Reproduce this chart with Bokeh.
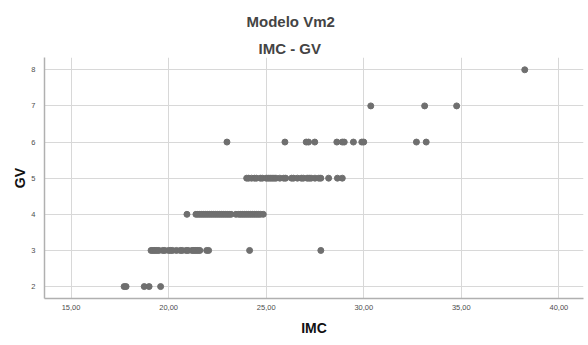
from bokeh.plotting import figure
from bokeh.models import Title, FixedTicker, Range1d
from bokeh.embed import file_html
from bokeh.resources import INLINE

# IMC values observed at each GV level
imc_gv2 = [17.72, 17.82, 18.75, 19.0, 19.59]
imc_gv3 = [19.1, 19.2, 19.3, 19.4, 19.5, 19.7, 19.8, 20.0, 20.1, 20.2, 20.4,
           20.6, 20.7, 20.9, 21.0, 21.2, 21.3, 21.4, 21.5, 21.6, 21.95, 22.05,
           24.15, 27.8]
imc_gv4 = [20.94, 21.4, 21.5, 21.6, 21.7, 21.8, 21.9, 22.0, 22.1, 22.2, 22.3,
           22.4, 22.5, 22.6, 22.7, 22.8, 22.9, 23.0, 23.1, 23.2, 23.45, 23.6,
           23.7, 23.8, 23.9, 24.0, 24.1, 24.2, 24.3, 24.4, 24.5, 24.6, 24.7,
           24.85]
imc_gv5 = [24.0, 24.1, 24.25, 24.4, 24.5, 24.7, 24.8, 25.0, 25.1, 25.2, 25.3,
           25.4, 25.5, 25.7, 25.9, 26.0, 26.3, 26.4, 26.6, 26.8, 26.9, 27.1,
           27.2, 27.3, 27.5, 27.7, 27.8, 28.2, 28.65, 28.9]
imc_gv6 = [22.99, 25.96, 27.05, 27.17, 27.49, 28.62, 28.9, 29.0, 29.47, 29.9,
           30.0, 32.7, 33.2]
imc_gv7 = [30.36, 33.12, 34.76]
imc_gv8 = [38.25]

gv_levels = [2, 3, 4, 5, 6, 7, 8]
imc_groups = [imc_gv2, imc_gv3, imc_gv4, imc_gv5, imc_gv6, imc_gv7, imc_gv8]

x_ticks = [15, 20, 25, 30, 35, 40]
x_tick_labels = ["15,00", "20,00", "25,00", "30,00", "35,00", "40,00"]
y_ticks = [2, 3, 4, 5, 6, 7, 8]

imc = [v for grp in imc_groups for v in grp]
gv = [lvl for lvl, grp in zip(gv_levels, imc_groups) for _ in grp]

p = figure(width=588, height=345, output_backend="svg", toolbar_location=None,
           x_range=Range1d(13.64, 41.26), y_range=Range1d(1.67, 8.34),
           min_border_left=44, min_border_right=5, min_border_bottom=47,
           min_border_top=57)

p.outline_line_color = None
p.background_fill_color = "white"
p.border_fill_color = "white"

# main title on top, subtitle just above the frame
p.title.text = "Modelo Vm2"
p.title.text_font = "Liberation Sans"
p.title.text_font_size = "15px"
p.title.text_font_style = "bold"
p.title.align = "left"
p.title.offset = 202
p.title.standoff = 14
p.add_layout(Title(text="IMC - GV", text_font="Liberation Sans",
                   text_font_size="15px", text_font_style="bold",
                   align="left", offset=214, standoff=2), "above")

p.scatter(imc, gv, size=6, fill_color="#6f6f6f", line_color="#6f6f6f")

for ax in (p.xaxis[0], p.yaxis[0]):
    ax.axis_line_color = "#b0b0b0"
    ax.axis_line_width = 1.5
    ax.major_tick_line_color = None
    ax.minor_tick_line_color = None
    ax.major_label_text_font = "Liberation Sans"
    ax.major_label_text_font_size = "7.5px"
    ax.major_label_text_color = "#4d4d4d"
    ax.axis_label_text_font = "Liberation Sans"
    ax.axis_label_text_font_size = "14px"
    ax.axis_label_text_font_style = "bold"
    ax.axis_label_text_color = "#111111"

p.xaxis.axis_label = "IMC"
p.xaxis.ticker = FixedTicker(ticks=x_ticks)
p.xaxis.major_label_overrides = {t: s for t, s in zip(x_ticks, x_tick_labels)}
p.xaxis.major_label_standoff = 0
p.xaxis.axis_label_standoff = 7

p.yaxis.axis_label = "GV"
p.yaxis.ticker = FixedTicker(ticks=y_ticks)
p.yaxis.major_label_standoff = 3
p.yaxis.axis_label_standoff = 0

p.xgrid.ticker = FixedTicker(ticks=x_ticks)
p.ygrid.ticker = FixedTicker(ticks=y_ticks)
p.grid.grid_line_color = "#d8d8d8"
p.grid.grid_line_width = 1

open("out.html", "w").write(file_html(p, INLINE))
